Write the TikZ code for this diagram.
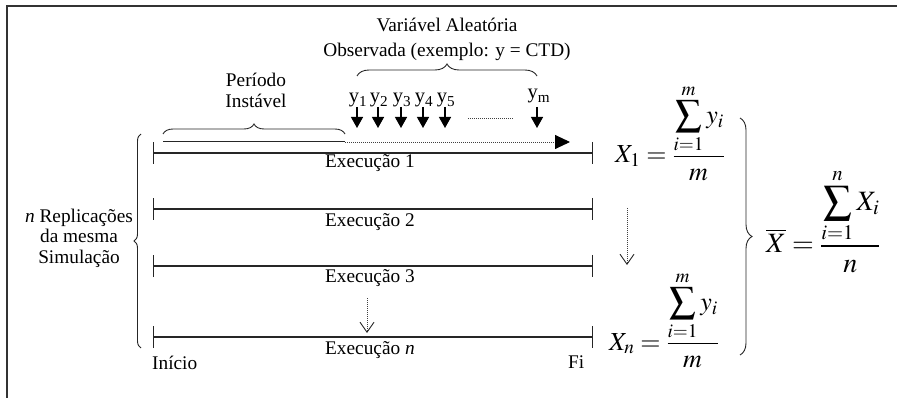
\documentclass[tikz,border=0pt]{standalone}
\usepackage{mathptmx}
\usepackage{fontspec}
\setmainfont{Liberation Serif}
\usetikzlibrary{arrows.meta,decorations.pathreplacing}
\begin{document}
\begin{tikzpicture}[x=1pt,y=-1pt,
  txt/.style={inner sep=0pt,font=\fontsize{19.3}{20}\selectfont},
  ylab/.style={inner sep=0pt,anchor=base,font=\fontsize{20.5}{22}\selectfont},
  formula/.style={inner sep=0pt,anchor=base west,font=\fontsize{26}{30}\selectfont},
  runline/.style={line width=1.2pt,draw=black!85,{Bar[width=22pt]}-{Bar[width=22pt]}},
  solidpart/.style={line width=1pt,draw=black!85},
  dotpart/.style={line width=0.9pt,draw=black!75,dash pattern=on 1pt off 1pt},
  sampletip/.style={line width=1.3pt,-{Triangle[length=11pt,width=12pt]}},
  stepdown/.style={line width=0.9pt,draw=black!75,dash pattern=on 1pt off 1pt,
    -{Straight Barb[length=10pt,width=14pt,line width=0.9pt,color=black!85]}},
  curly/.style={line width=0.9pt,draw=black!85,decorate,decoration={brace,amplitude=#1}}
]
\useasboundingbox (0,0) rectangle (897,398);
\clip (0,0) rectangle (897,398);

% frame
\draw[line width=1.5pt,black!80] (7,420) -- (7,6) -- (920,6);

% the n runs
\foreach \k/\y in {1/153,2/209,3/266,4/337}{
  \coordinate (s\k) at (153,\y);
  \coordinate (e\k) at (593,\y);
  \draw[runline] (s\k) -- (e\k);
}
\node[txt,anchor=base west] (lab1) at (325,168) {Execução 1};
\node[txt,anchor=base west] (lab2) at (325,226) {Execução 2};
\node[txt,anchor=base west] (lab3) at (325,283) {Execução 3};
\node[txt,anchor=base west] (lab4) at (325,354) {Execução \textit{n}};
\node[txt,anchor=base west] (ini) at (152,369) {Início};
\node[txt,anchor=base west] (fim) at (568,368) {Fi};

% warm-up and observation period over the first run
\coordinate (w0) at (163,142);
\coordinate (w1) at (345,142);
\coordinate (w2) at (570,142);
\draw[solidpart] (w0) -- (w1);
\draw[dotpart,-{Triangle[length=15pt,width=14pt,color=black]}] (w1) -- (w2);

\coordinate (pa) at (163,134);
\coordinate (pb) at (345,134);
\draw[curly=10pt] (pa) -- (pb);
\node[txt,anchor=base] (per1) at (256,87) {Período};
\node[txt,anchor=base] (per2) at (256,108) {Instável};

% observed values
\foreach \k/\x in {1/357,2/378,3/401,4/423,5/445}{
  \node[ylab] (y\k) at (\x+1,103) {y\textsubscript{\k}};
  \coordinate (ya\k) at (\x,107);
  \coordinate (yb\k) at (\x,128);
  \draw[sampletip] (ya\k) -- (yb\k);
}
\node[ylab] (ym) at (539,99) {y\textsubscript{m}};
\coordinate (yam) at (537,107);
\coordinate (ybm) at (537,128);
\draw[sampletip] (yam) -- (ybm);
\coordinate (da) at (468,118);
\coordinate (db) at (513,118);
\draw[dotpart] (da) -- (db);

\coordinate (oa) at (357,76);
\coordinate (ob) at (537,76);
\draw[curly=12pt] (oa) -- (ob);
\node[txt,anchor=base] (var1) at (447,32) {Variável Aleatória};
\node[txt,anchor=base] (var2) at (447,57) {Observada (exemplo: y = CTD)};

% replications
\coordinate (ra) at (141,348);
\coordinate (rb) at (141,134);
\draw[curly=7pt] (ra) -- (rb);
\node[txt,anchor=base] (rep1) at (79,223) {\textit{n} Replicações};
\node[txt,anchor=base] (rep2) at (79,243) {da mesma};
\node[txt,anchor=base] (rep3) at (79,263) {Simulação};

% skipped runs
\coordinate (ka) at (367,298);
\coordinate (kb) at (367,333);
\draw[stepdown] (ka) -- (kb);
\coordinate (ma) at (627,208);
\coordinate (mb) at (627,265);
\draw[stepdown] (ma) -- (mb);

% run means and grand mean
\node[formula] (x1) at (615,163) {$\displaystyle X_1=\frac{\displaystyle\sum_{i=1}^{m} y_i}{m}$};
\node[formula] (xn) at (609,350) {$\displaystyle X_n=\frac{\displaystyle\sum_{i=1}^{m} y_i}{m}$};
\coordinate (ga) at (740,118);
\coordinate (gb) at (740,355);
\draw[curly=12pt] (ga) -- (gb);
\node[formula,font=\fontsize{28}{32}\selectfont] (xbar) at (766,253) {$\displaystyle \overline{X}=\frac{\displaystyle\sum_{i=1}^{n} X_i}{n}$};
\end{tikzpicture}
\end{document}
